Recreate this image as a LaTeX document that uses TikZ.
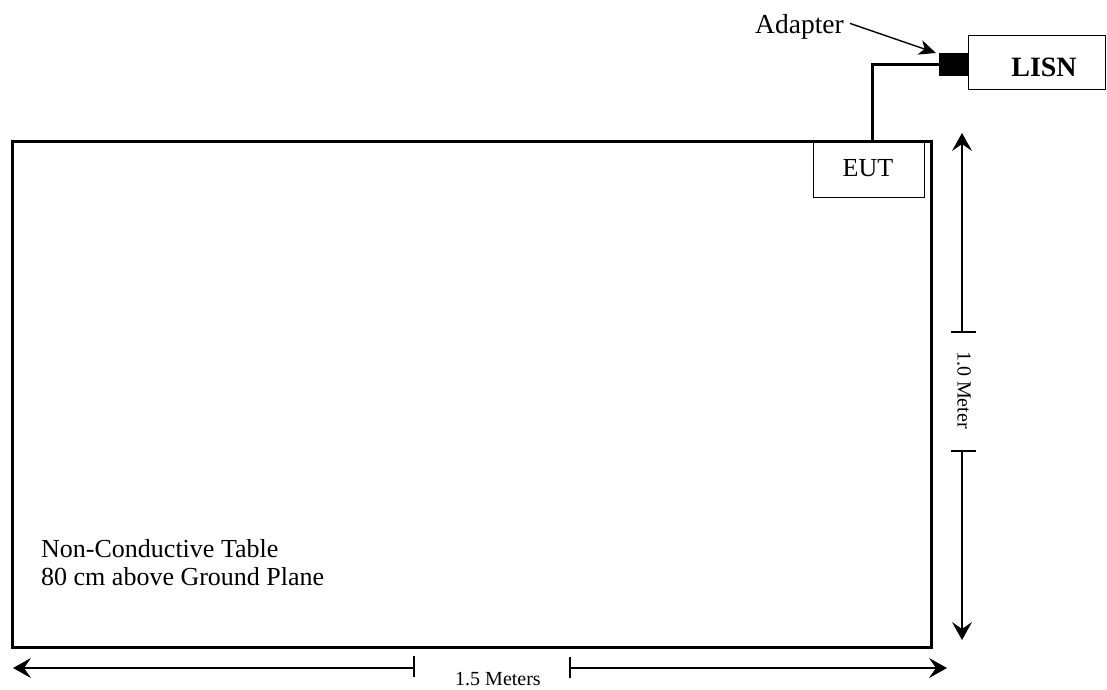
\documentclass[tikz,border=0pt]{standalone}
\usepackage{fontspec}
\setmainfont{Liberation Serif}
\usetikzlibrary{arrows.meta}
\begin{document}
\begin{tikzpicture}[x=1pt,y=-1pt,
  box/.style={draw,line width=1.4pt,inner sep=0pt,anchor=north west},
  lbl/.style={inner sep=0pt,font=\fontsize{26}{28}\selectfont},
  dimlbl/.style={inner sep=0pt,font=\fontsize{20}{22}\selectfont},
  dimarrow/.style={line width=1.4pt,-{Stealth[length=18pt,width=20pt,inset=7pt]}},
  tick/.style={line width=1.4pt},
  cable/.style={line width=2.6pt}]
\useasboundingbox (0,0) rectangle (1107,689);
% table
\node[box,line width=3pt,minimum width=919pt,minimum height=506pt] (table) at (11,140) {};
\node[lbl,anchor=base west,align=left] (tabletext) at (41,585) {Non-Conductive Table\\80 cm above Ground Plane};
% EUT
\node[box,minimum width=111pt,minimum height=57pt] (eut) at (813,140) {};
\node[lbl,anchor=base] (euttext) at (868,176) {EUT};
% LISN
\node[box,minimum width=137pt,minimum height=54pt] (lisn) at (968,35) {};
\node[lbl,font=\fontsize{28}{30}\selectfont\bfseries,anchor=base] (lisntext) at (1044,76) {LISN};
% adapter
\node[fill=black,inner sep=0pt,minimum width=29pt,minimum height=23pt,anchor=north west] (adapter) at (939,53) {};
% cable
\draw[cable] ([xshift=3pt]eut.north) |- (adapter.west);
% adapter label
\node[lbl,font=\fontsize{27.5}{29}\selectfont,anchor=base west] (adaptertext) at (755,33) {Adapter};
\coordinate (adtip) at (936,53);
\draw[line width=1.4pt,-{Stealth[length=17pt,width=15pt,inset=5pt]}] ([xshift=6pt,yshift=3pt]adaptertext.east) -- (adtip);
% vertical dimension
\coordinate (vtop) at (962,133);
\coordinate (vbot) at (962,640);
\coordinate (vt1) at (962,332);
\coordinate (vt2) at (962,451);
\draw[dimarrow] (vt1) -- (vtop);
\draw[dimarrow] (vt2) -- (vbot);
\draw[tick] ([xshift=-11pt]vt1) -- ([xshift=14pt]vt1);
\draw[tick] ([xshift=-11pt]vt2) -- ([xshift=14pt]vt2);
\node[dimlbl,rotate=-90] (vlabel) at (964,390) {1.0 Meter};
% horizontal dimension
\coordinate (hleft) at (13,668);
\coordinate (hright) at (947,668);
\coordinate (ht1) at (414,668);
\coordinate (ht2) at (570,668);
\draw[dimarrow] (ht1) -- (hleft);
\draw[dimarrow] (ht2) -- (hright);
\draw[tick] ([yshift=-9pt]ht1) -- ([yshift=12pt]ht1);
\draw[tick] ([yshift=-10pt]ht2) -- ([yshift=11pt]ht2);
\node[dimlbl,anchor=base] (hlabel) at (498,685) {1.5 Meters};
\end{tikzpicture}
\end{document}
